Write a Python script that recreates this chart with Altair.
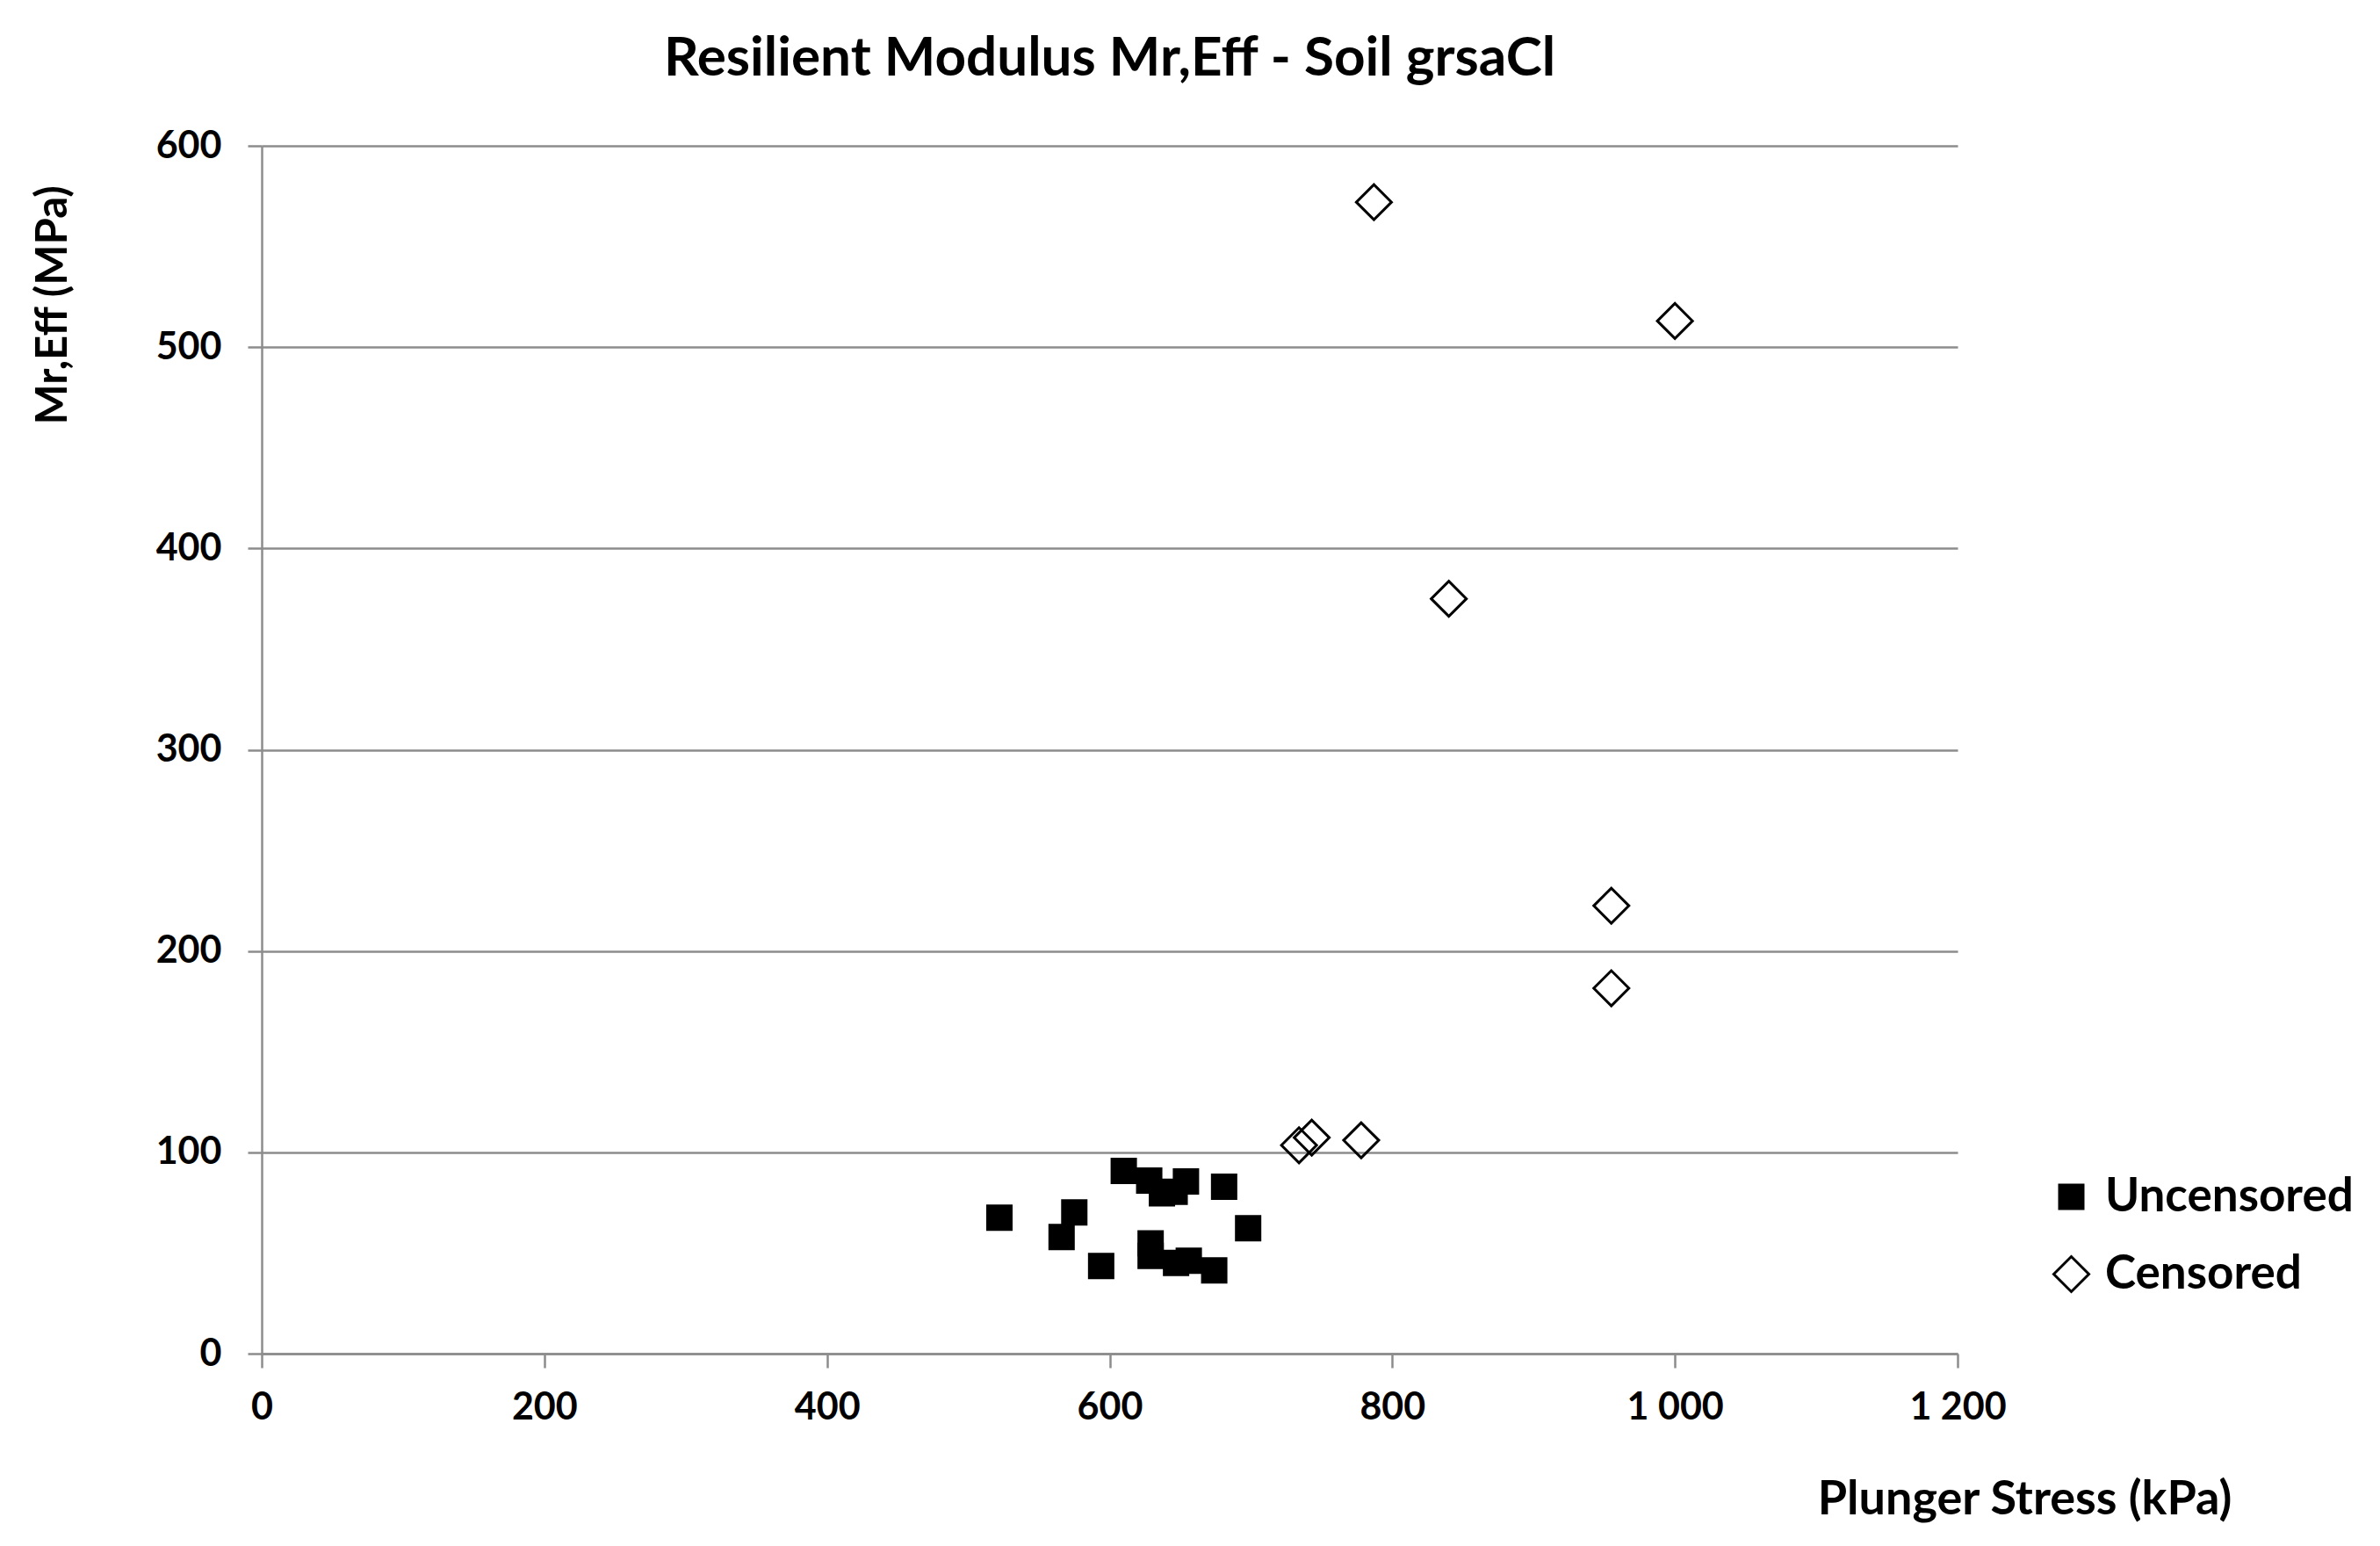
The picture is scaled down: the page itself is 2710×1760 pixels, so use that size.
import altair as alt
import pandas as pd

# Uncensored (filled squares)
unc_x = [522, 575, 566, 594, 610, 628, 637, 646, 654, 681, 698, 629, 629, 647, 656, 674]
unc_y = [67.5, 70.2, 57.9, 43.5, 90.8, 86.0, 79.6, 80.4, 85.5, 82.9, 62.3, 54.8, 48.6, 45.1, 46.2, 41.4]
# Censored (open diamonds)
cen_x = [787, 1000, 840, 955, 955, 734, 743, 778]
cen_y = [572, 513, 375, 222.5, 181.5, 103.5, 107.3, 106]

categories = ["Uncensored", "Censored"]
x_ticks = [0, 200, 400, 600, 800, 1000, 1200]
y_ticks = [0, 100, 200, 300, 400, 500, 600]

df = pd.DataFrame({
    "stress": unc_x + cen_x,
    "mr": unc_y + cen_y,
    "type": [categories[0]] * len(unc_x) + [categories[1]] * len(cen_x),
})

GRAY = "#8c8c8c"
FONT = "Lato"

legend = alt.Legend(
    title=None, orient="none", legendX=2034, legendY=1170,
    labelFont=FONT, labelFontSize=53, labelFontWeight="bold", labelColor="black",
    labelLimit=600, labelOffset=12, rowPadding=34,
    symbolStrokeWidth=3, symbolOpacity=1,
)

chart = alt.Chart(df).mark_point(filled=True, strokeWidth=3, opacity=1).encode(
    x=alt.X("stress:Q", scale=alt.Scale(domain=[0, 1200], nice=False),
            axis=alt.Axis(values=x_ticks, grid=False, title="Plunger Stress (kPa)",
                          labelExpr="replace(format(datum.value, ','), ',', ' ')",
                          labelFlush=False, labelPadding=24, titleX=2007, titleY=166,
                          titleFontSize=54,
                          titleAlign="center", titleBaseline="middle")),
    y=alt.Y("mr:Q", scale=alt.Scale(domain=[0, 600], nice=False),
            axis=alt.Axis(values=y_ticks, grid=True, title="Mr,Eff (MPa)",
                          labelPadding=30, titleX=-238, titleY=181, titleAngle=270,
                          titleAlign="center", titleBaseline="middle")),
    shape=alt.Shape("type:N", scale=alt.Scale(domain=categories, range=["square", "diamond"]), legend=legend),
    fill=alt.Fill("type:N", scale=alt.Scale(domain=categories, range=["#000000", "transparent"]), legend=legend),
    stroke=alt.Stroke("type:N", scale=alt.Scale(domain=categories, range=["#000000", "#000000"]), legend=legend),
    size=alt.Size("type:N", scale=alt.Scale(domain=categories, range=[729, 1600]), legend=legend),
).properties(
    width=1931, height=1375,
    title=alt.TitleParams("Resilient Modulus Mr,Eff - Soil grsaCl", font=FONT, fontSize=62,
                          fontWeight="bold", color="black", anchor="middle", offset=46),
    autosize=alt.AutoSizeParams(type="none"),
    padding={"left": 290, "top": 158, "right": 473, "bottom": 211},
).configure_axis(
    labelFont=FONT, labelFontSize=43, labelFontWeight="bold", labelColor="black",
    titleFont=FONT, titleFontSize=49, titleFontWeight="bold", titleColor="black",
    domainColor=GRAY, domainWidth=2.5, tickColor=GRAY, tickWidth=2.5, tickSize=16,
    gridColor=GRAY, gridWidth=2.5,
).configure_view(stroke=None)

chart.save("out.html", embed_options={"renderer": "svg", "actions": False})
